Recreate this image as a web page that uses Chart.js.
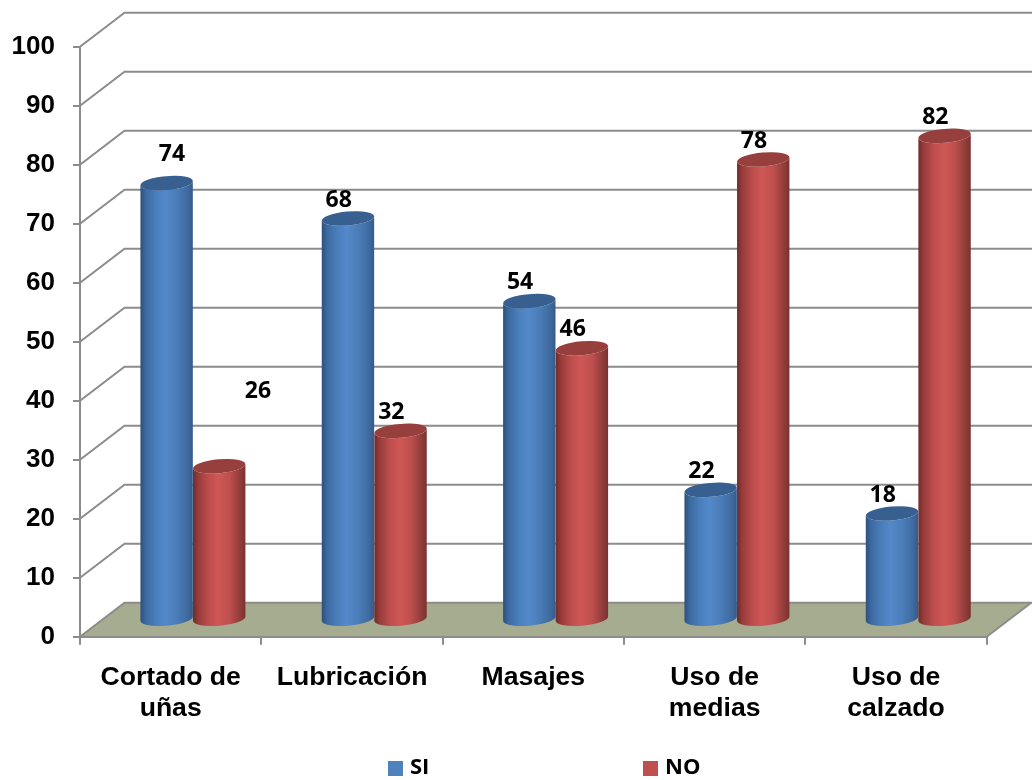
<!DOCTYPE html>
<html lang="es">
<head>
<meta charset="utf-8">
<title>Cuidado de los pies</title>
<style>
  html, body { margin: 0; padding: 0; background: #fff; }
  canvas { display: block; }
</style>
<script src="https://cdn.jsdelivr.net/npm/chart.js@4"></script>
</head>
<body>
<canvas id="chart" width="1032" height="780"></canvas>
<script>
const categories = [['Cortado de', 'uñas'], 'Lubricación', 'Masajes', ['Uso de', 'medias'], ['Uso de', 'calzado']];
const siValues = [74, 68, 54, 22, 18];
const noValues = [26, 32, 46, 78, 82];
const yTicks = [0, 10, 20, 30, 40, 50, 60, 70, 80, 90, 100];

// Depth of the 3D box: back wall offset from the front axes
const DEPTH_X = 44.5, DEPTH_Y = -34;
const GRID = '#8c8c8c';
const FLOOR = '#a5ac8f';
const SANS = '"Liberation Sans", Arial, sans-serif';
const LABEL_FONT = 'bold 23px "Open Sans", sans-serif';
const LEGEND_FONT = 'bold 22px "Open Sans", sans-serif';

const shadeAt = [0, 0.1, 0.3, 0.48, 0.7, 0.9, 1];
const palettes = [
  { swatch: '#4f81bd', top: '#375f8f', stops: ['#2c4f7c', '#3c699f', '#4a7fbd', '#5389ca', '#4a7cb7', '#3f6a9f', '#345a8a'] },
  { swatch: '#c0504d', top: '#963f3d', stops: ['#6f2a29', '#963c3b', '#bd4e4c', '#cf5755', '#bd4f4d', '#8f3c3a', '#7a3230'] }
];

// Offset of each value label from its bar; two labels sit away from the usual spot
const labelShift = { dx: 13, dy: -35.5 };
const movedLabels = { '0:0': { dx: 27.6, dy: -46 }, '1:0': { dx: 61, dy: -92 } };

const backdrop = {
  id: 'backdrop',
  beforeDraw(chart) {
    const { ctx, chartArea: a, scales: { y } } = chart;
    ctx.save();
    // Floor of the box
    ctx.fillStyle = FLOOR;
    ctx.beginPath();
    ctx.moveTo(a.left, a.bottom);
    ctx.lineTo(a.left + DEPTH_X, a.bottom + DEPTH_Y);
    ctx.lineTo(a.right + DEPTH_X, a.bottom + DEPTH_Y);
    ctx.lineTo(a.right, a.bottom);
    ctx.closePath();
    ctx.fill();
    // Wall gridlines with their diagonal return to the axis
    ctx.strokeStyle = GRID;
    ctx.lineWidth = 2;
    yTicks.forEach(v => {
      const py = y.getPixelForValue(v);
      ctx.beginPath();
      ctx.moveTo(a.left, py);
      ctx.lineTo(a.left + DEPTH_X, py + DEPTH_Y);
      ctx.lineTo(chart.width, py + DEPTH_Y);
      ctx.stroke();
    });
    ctx.beginPath();
    ctx.moveTo(a.right, a.bottom);
    ctx.lineTo(a.right + DEPTH_X, a.bottom + DEPTH_Y);
    ctx.stroke();
    ctx.restore();
  }
};

function drawCylinder(ctx, bar, palette) {
  const cx = bar.x + DEPTH_X / 2;
  const rx = bar.width / 2;
  const ry = 7;
  const tilt = -5 * Math.PI / 180;
  const topY = bar.y + DEPTH_Y / 2;
  const baseY = bar.base + DEPTH_Y / 2;
  const grad = ctx.createLinearGradient(cx - rx, 0, cx + rx, 0);
  palette.stops.forEach((c, i) => grad.addColorStop(shadeAt[i], c));
  ctx.fillStyle = grad;
  ctx.beginPath();
  ctx.ellipse(cx, baseY, rx, ry, tilt, 0, Math.PI);
  ctx.ellipse(cx, topY, rx, ry, tilt, Math.PI, 0, true);
  ctx.closePath();
  ctx.fill();
  ctx.fillStyle = palette.top;
  ctx.beginPath();
  ctx.ellipse(cx, topY, rx, ry, tilt, 0, 2 * Math.PI);
  ctx.fill();
}

const cylinders = {
  id: 'cylinders',
  beforeDatasetsDraw(chart) {
    const metas = chart.data.datasets.map((_, i) => chart.getDatasetMeta(i));
    categories.forEach((_, i) => {
      metas.forEach((meta, d) => drawCylinder(chart.ctx, meta.data[i], palettes[d]));
    });
  },
  // The cylinders replace the flat rectangles
  beforeDatasetDraw() { return false; },
  afterDatasetsDraw(chart) {
    const { ctx } = chart;
    ctx.save();
    ctx.font = LABEL_FONT;
    ctx.fillStyle = '#000';
    ctx.textAlign = 'center';
    ctx.textBaseline = 'middle';
    chart.data.datasets.forEach((ds, d) => {
      chart.getDatasetMeta(d).data.forEach((bar, i) => {
        const s = movedLabels[d + ':' + i] || labelShift;
        ctx.fillText(String(ds.data[i]), bar.x + s.dx, bar.y + s.dy);
      });
    });
    ctx.restore();
  }
};

// Legend with widely spaced entries under the chart
const legendRow = {
  id: 'legendRow',
  afterDraw(chart) {
    const { ctx } = chart;
    const slots = [388, 643];
    ctx.save();
    ctx.font = LEGEND_FONT;
    ctx.textBaseline = 'middle';
    ctx.textAlign = 'left';
    chart.data.datasets.forEach((ds, d) => {
      ctx.fillStyle = ds.backgroundColor;
      ctx.fillRect(slots[d], 761, 15, 15);
      ctx.fillStyle = '#000';
      ctx.fillText(ds.label, slots[d] + 22, 768);
    });
    ctx.restore();
  }
};

new Chart(document.getElementById('chart'), {
  type: 'bar',
  data: {
    labels: categories,
    datasets: [
      { label: 'SI', data: siValues, backgroundColor: palettes[0].swatch },
      { label: 'NO', data: noValues, backgroundColor: palettes[1].swatch }
    ]
  },
  plugins: [backdrop, cylinders, legendRow],
  options: {
    responsive: false,
    animation: false,
    devicePixelRatio: 1,
    layout: { padding: { top: 46.7, right: 45.3, left: 0, bottom: 0 } },
    datasets: { bar: { categoryPercentage: 0.58, barPercentage: 1 } },
    plugins: { legend: { display: false }, tooltip: { enabled: false } },
    scales: {
      x: {
        afterFit(s) { s.height = 143.3; },
        border: { color: GRID, width: 2 },
        grid: { drawOnChartArea: false, color: GRID, lineWidth: 2, tickLength: 8, offset: true },
        ticks: {
          color: '#000',
          maxRotation: 0,
          autoSkip: false,
          padding: 18,
          font: { family: SANS, size: 26.6, weight: 'bold', lineHeight: 1.14 }
        }
      },
      y: {
        min: 0,
        max: 100,
        afterFit(s) { s.width = 80; },
        afterBuildTicks(s) { s.ticks = yTicks.map(value => ({ value })); },
        border: { color: GRID, width: 2 },
        grid: { drawOnChartArea: false, color: GRID, lineWidth: 2, tickLength: 7 },
        ticks: {
          color: '#000',
          padding: 18,
          font: { family: SANS, size: 26, weight: 'bold' }
        }
      }
    }
  }
});
</script>
</body>
</html>
